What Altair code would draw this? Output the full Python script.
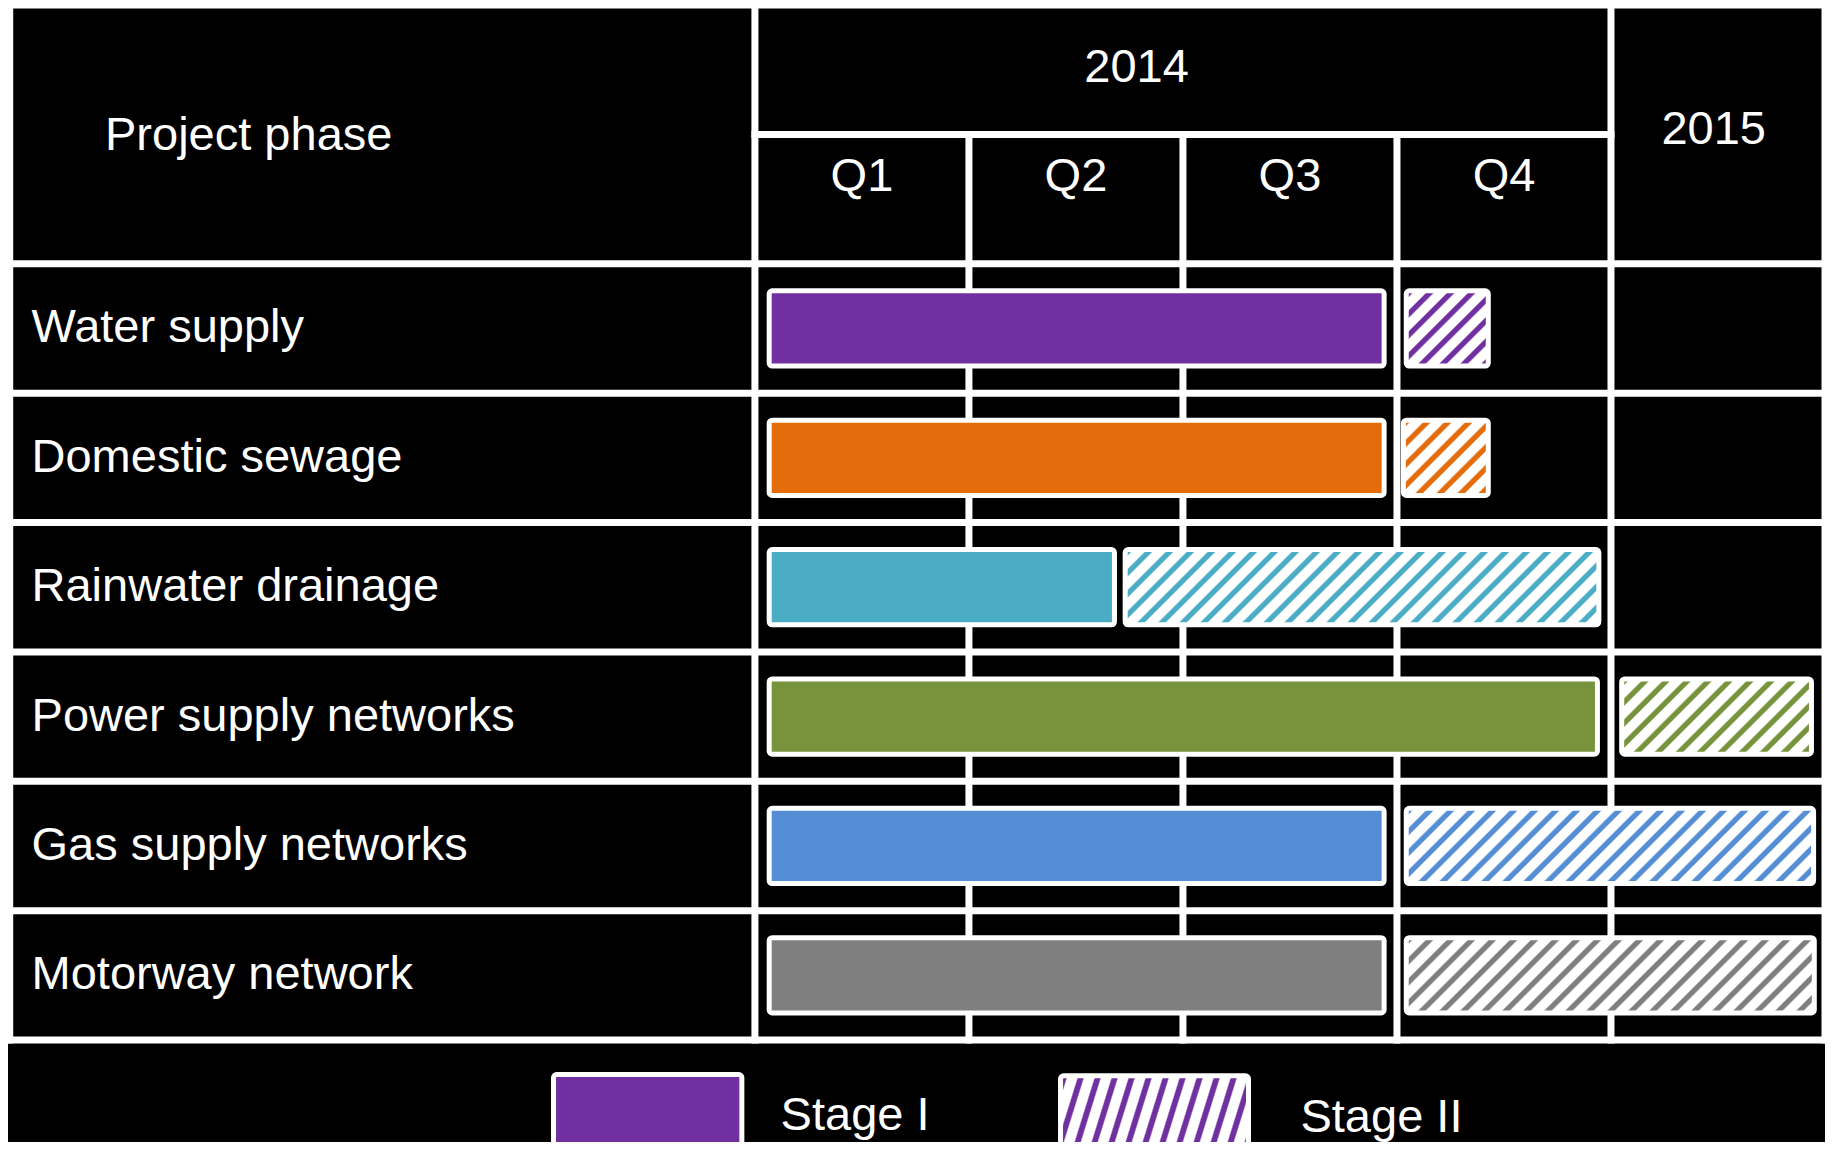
import math
import altair as alt
import pandas as pd

# ---------------- data ----------------
phases = ["Water supply", "Domestic sewage", "Rainwater drainage",
          "Power supply networks", "Gas supply networks", "Motorway network"]
colors = ["#7030A0", "#E46C0A", "#4BACC6", "#77933C", "#558ED5", "#7F7F7F"]
# months counted from 1 Jan 2014
stage1_start = [0.20, 0.20, 0.20, 0.20, 0.20, 0.20]
stage1_end = [8.82, 8.82, 5.04, 11.81, 8.82, 8.82]
stage2_start = [9.13, 9.09, 5.19, 12.15, 9.13, 9.13]
stage2_end = [10.28, 10.28, 11.83, 14.81, 14.84, 14.85]

quarters = ["Q1", "Q2", "Q3", "Q4"]
years = ["2014", "2015"]
header_title = "Project phase"
legend_labels = ["Stage I", "Stage II"]

# ---------------- layout ----------------
W, H = 1817, 1134
X0, X1 = -10.47, 15.0           # months; negative part = label column
PXM = W / (X1 - X0)             # px per month
PXR = 129.375                   # px per row
Y0 = 3 / PXR
Y1 = Y0 + H / PXR
LEFT = -10.446
END = 15.0
N = len(phases)
BAR_T, BAR_B = 0.209, 0.791
FONT = "Liberation Sans"
FS = 47

xs = alt.Scale(domain=[X0, X1], nice=False, zero=False)
ys = alt.Scale(domain=[Y0, Y1], nice=False, zero=False, reverse=True)


def X(f):
    return alt.X(f, type="quantitative", scale=xs, axis=None)


def Y(f):
    return alt.Y(f, type="quantitative", scale=ys, axis=None)


def hatch(color, w, h, period_h=21.0, duty=0.36, theta=45.0, soft=1.3):
    th = math.radians(theta)
    s, c = math.sin(th), math.cos(th)
    L = w * s + h * c
    lam = L / (w * w * s * s + h * h * c * c)
    per = period_h * s / L
    sw = soft / L
    stops = [(0.0, "#ffffff")]
    t = 0.0
    while t < 1.0:
        a = t
        b = t + duty * per
        stops += [(a + sw, color), (b, color), (b + sw, "#ffffff"), (a + per, "#ffffff")]
        t += per
    out = []
    last = 0.0
    for o, col in stops:
        o = min(1.0, max(last, o))
        out.append({"offset": round(o, 5), "color": col})
        last = o
    return {"gradient": "linear", "x1": 0, "y1": 0,
            "x2": lam * w * s, "y2": lam * h * c, "stops": out}


# ---------------- grid ----------------
q_bounds = [3 * k for k in range(len(quarters) + 1)]  # 0..12
hl = [{"y": 0, "xa": LEFT, "xb": END}, {"y": 1, "xa": 0, "xb": q_bounds[-1]}]
hl += [{"y": 2 + i, "xa": LEFT, "xb": END} for i in range(N + 1)]
vl = [{"x": LEFT, "ya": 0, "yb": 2 + N}, {"x": 0, "ya": 0, "yb": 2 + N},
      {"x": q_bounds[-1], "ya": 0, "yb": 2 + N}, {"x": END, "ya": 0, "yb": 2 + N}]
vl += [{"x": q, "ya": 1, "yb": 2 + N} for q in q_bounds[1:-1]]

hlines = alt.Chart(pd.DataFrame(hl)).mark_rule(
    color="white", strokeWidth=7, strokeCap="square").encode(
    x=X("xa"), x2="xb:Q", y=Y("y"))
vlines = alt.Chart(pd.DataFrame(vl)).mark_rule(
    color="white", strokeWidth=7, strokeCap="square").encode(
    x=X("x"), y=Y("ya"), y2="yb:Q")

# ---------------- bars ----------------
bars = pd.DataFrame({"phase": phases, "color": colors,
                     "s1": stage1_start, "e1": stage1_end,
                     "s2": stage2_start, "e2": stage2_end,
                     "row": list(range(N))})

base = alt.Chart(bars).transform_calculate(
    yt=f"datum.row + 2 + {BAR_T}", yb=f"datum.row + 2 + {BAR_B}")

stage1 = base.mark_rect(stroke="white", strokeWidth=5, cornerRadius=3).encode(
    x=X("s1"), x2="e1:Q", y=Y("yt"), y2="yb:Q",
    fill=alt.Fill("phase:N", scale=alt.Scale(domain=phases, range=colors), legend=None))

bar_h = (BAR_B - BAR_T) * PXR
stage2_layers = []
for i in range(N):
    w = (stage2_end[i] - stage2_start[i]) * PXM
    g = hatch(colors[i], w, bar_h)
    stage2_layers.append(
        base.transform_filter(alt.datum.row == i).mark_rect(
            fill=g, stroke="white", strokeWidth=5, cornerRadius=3).encode(
            x=X("s2"), x2="e2:Q", y=Y("yt"), y2="yb:Q"))

# ---------------- texts ----------------
row_labels = base.transform_calculate(yc="datum.row + 2.5", xl="-10.14").mark_text(
    align="left", baseline="middle", font=FONT, fontSize=FS, color="white").encode(
    x=X("xl"), y=Y("yc"), text="phase:N")

head = [{"t": header_title, "x": -9.11, "y": 1.01, "a": "left"},
        {"t": years[0], "x": 5.35, "y": 0.485, "a": "center"},
        {"t": years[1], "x": 13.44, "y": 0.965, "a": "center"}]
head += [{"t": q, "x": 3 * k + 1.5, "y": 1.326, "a": "center"} for k, q in enumerate(quarters)]
hdf = pd.DataFrame(head)
head_left = alt.Chart(hdf).transform_filter(alt.datum.a == "left").mark_text(
    align="left", baseline="middle", font=FONT, fontSize=FS, color="white").encode(
    x=X("x"), y=Y("y"), text="t:N")
head_center = alt.Chart(hdf).transform_filter(alt.datum.a == "center").mark_text(
    align="center", baseline="middle", font=FONT, fontSize=FS, color="white").encode(
    x=X("x"), y=Y("y"), text="t:N")

# ---------------- legend ----------------
leg = pd.DataFrame({"label": legend_labels,
                    "bx": [-2.823, 4.284], "bx2": [-0.183, 6.919],
                    "by": [8.267, 8.277], "by2": [9.2, 9.2],
                    "tx": [0.36, 7.647], "ty": [8.585, 8.60]})
leg1 = alt.Chart(leg).transform_filter(alt.datum.label == legend_labels[0]).mark_rect(
    fill=colors[0], stroke="white", strokeWidth=5, cornerRadius=3).encode(
    x=X("bx"), x2="bx2:Q", y=Y("by"), y2="by2:Q")
lw = (6.919 - 4.284) * PXM
lh = 70.0
leg2 = alt.Chart(leg).transform_filter(alt.datum.label == legend_labels[1]).mark_rect(
    fill=hatch(colors[0], lw, lh, period_h=17.0, theta=62), stroke="white",
    strokeWidth=5, cornerRadius=3).encode(
    x=X("bx"), x2="bx2:Q", y=Y("by"), y2="by2:Q")
leg_text = alt.Chart(leg).mark_text(
    align="left", baseline="middle", font=FONT, fontSize=FS, color="white").encode(
    x=X("tx"), y=Y("ty"), text="label:N")

chart = alt.layer(
    hlines, vlines, stage1, *stage2_layers, row_labels, head_left, head_center,
    leg1, leg2, leg_text
).properties(
    width=W, height=H, autosize=alt.AutoSizeParams(type="none"), padding=0,
    background="black"
).configure_view(stroke=None)

chart.save("out.html", embed_options={"renderer": "svg", "actions": False})
